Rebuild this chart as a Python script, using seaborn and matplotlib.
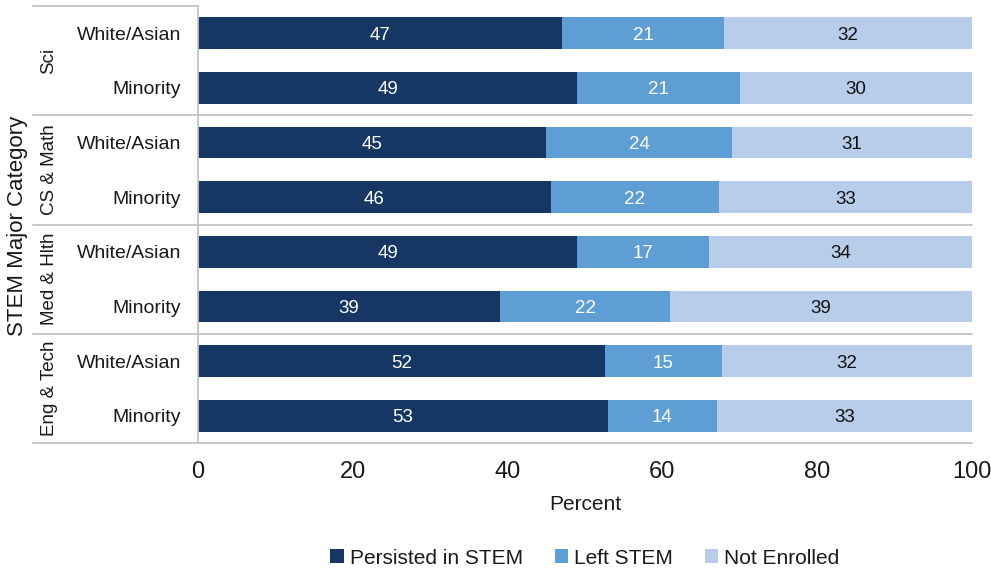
import numpy as np
import pandas as pd
import matplotlib
matplotlib.use("Agg")
import matplotlib.pyplot as plt
import matplotlib.transforms as mtransforms
from matplotlib.patches import Patch
import seaborn as sns

groups = ["Sci", "CS & Math", "Med & Hlth", "Eng & Tech"]
subgroups = ["White/Asian", "Minority"]
persisted = [47, 49, 45, 46, 49, 39, 52, 53]
left_stem = [21, 21, 24, 22, 17, 22, 15, 14]
not_enrolled = [32, 30, 31, 33, 34, 39, 32, 33]
series_names = ["Persisted in STEM", "Left STEM", "Not Enrolled"]
colors = ["#163763", "#5E9ED5", "#B8CDE9"]
label_colors = ["white", "white", "#111111"]
x_ticks = [0, 20, 40, 60, 80, 100]

sns.set_theme(style="white")
plt.rcParams["font.family"] = ["Liberation Sans", "DejaVu Sans"]
TXT = "#1a1a1a"
GRID = "#C4C4C4"

rows = [f"{g}|{s}" for g in groups for s in subgroups]
df = pd.DataFrame({"row": rows, "p": persisted, "l": left_stem, "n": not_enrolled})
tot = df[["p", "l", "n"]].sum(axis=1)
df["c1"] = df["p"] / tot * 100
df["c2"] = (df["p"] + df["l"]) / tot * 100
df["c3"] = (df["p"] + df["l"] + df["n"]) / tot * 100

W, H = 991, 571
fig = plt.figure(figsize=(W / 100, H / 100), dpi=100)
ax = fig.add_axes([198 / W, 1 - 443 / H, 774 / W, 437 / H])

for col, c in zip(["c3", "c2", "c1"], colors[::-1]):
    sns.barplot(data=df, x=col, y="row", color=c, orient="h", width=0.58,
                saturation=1, errorbar=None, ax=ax, edgecolor="none", linewidth=0)

for i, r in df.iterrows():
    starts = [0, r["c1"], r["c2"]]
    ends = [r["c1"], r["c2"], r["c3"]]
    vals = [r["p"], r["l"], r["n"]]
    for s, e, v, tc in zip(starts, ends, vals, label_colors):
        ax.text((s + e) / 2, i, f"{v}", ha="center", va="center_baseline",
                color=tc, fontsize=13.5)

ax.set_xlim(0, 100)
ax.set_ylim(len(rows) - 0.5, -0.5)
ax.set_xticks(x_ticks)
ax.set_xticklabels([str(t) for t in x_ticks])
ax.set_yticks(range(len(rows)))
ax.set_yticklabels(subgroups * len(groups))
ax.tick_params(axis="y", length=0, pad=12, labelsize=14, labelcolor=TXT)
ax.tick_params(axis="x", length=0, pad=13, labelsize=17, labelcolor=TXT)
ax.set_xlabel("")
ax.set_ylabel("")
for sp in ["top", "right", "bottom"]:
    ax.spines[sp].set_visible(False)
ax.spines["left"].set_color(GRID)
ax.spines["left"].set_linewidth(1.3)

# separators
tr = mtransforms.blended_transform_factory(ax.transAxes, ax.transData)
x0 = (33 - 198) / 774
for yb in [1.5, 3.5, 5.5, 7.5]:
    ax.plot([x0, 1.0], [yb, yb], transform=tr, color=GRID, lw=1.3, clip_on=False)
ax.plot([x0, 0.0], [-0.5, -0.5], transform=tr, color=GRID, lw=1.3, clip_on=False)

# group labels
trg = mtransforms.blended_transform_factory(fig.transFigure, ax.transData)
for gi, g in enumerate(groups):
    ax.text(49 / W, 2 * gi + 0.5, g, transform=trg, rotation=90,
            ha="center", va="center", fontsize=13.5, color=TXT)

fig.text(18 / W, 1 - 226 / H, "STEM Major Category", rotation=90,
         ha="center", va="center", fontsize=16, color=TXT)
fig.text(585 / W, 1 - 505 / H, "Percent", ha="center", va="center",
         fontsize=15, color=TXT)

handles = [Patch(facecolor=c, edgecolor="none") for c in colors]
fig.legend(handles, series_names, loc="center", bbox_to_anchor=(585 / W, 1 - 558 / H),
           ncol=3, frameon=False, fontsize=15, handlelength=0.65, handleheight=0.65,
           handletextpad=0.3, columnspacing=1.5, labelcolor=TXT)

fig.savefig("out.png", dpi=100)
